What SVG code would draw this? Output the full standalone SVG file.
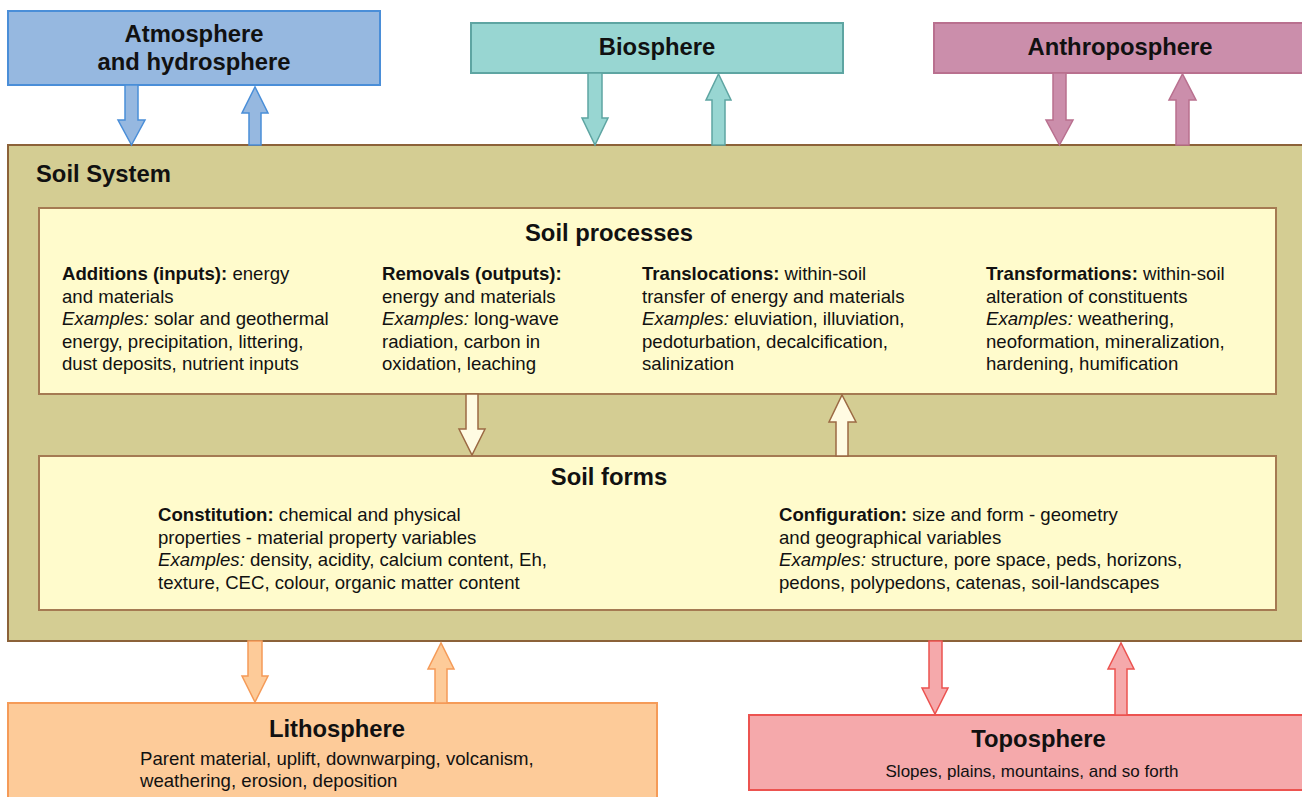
<svg xmlns="http://www.w3.org/2000/svg" width="1302" height="797" viewBox="0 0 1302 797">
<style>
text{font-family:"Liberation Sans",Arial,sans-serif;fill:#111}
.h{font-weight:bold;font-size:23.8px}
.t{font-size:18.6px}
.b{font-weight:bold}
.i{font-style:italic}
.inner{fill:#fffbcc;stroke:#a57a52;stroke-width:2}
.ia{fill:#fffbe2;stroke:#9c6a44;stroke-width:1.5}
</style>
<rect x="0" y="0" width="1302" height="797" fill="#fff"/>
<g id="soil-system">
<rect x="8" y="145" width="1310" height="496" fill="#d4cd93" stroke="#8c6239" stroke-width="2"/>
<text x="36" y="182" class="h">Soil System</text>
</g>
<g id="atmosphere">
<rect x="8" y="11" width="372" height="74" fill="#96b8e0" stroke="#4a8ed8" stroke-width="2"/>
<text x="194" y="42" class="h" text-anchor="middle">Atmosphere</text>
<text x="194" y="70" class="h" text-anchor="middle">and hydrosphere</text>
</g>
<g id="biosphere">
<rect x="471" y="23" width="372" height="50" fill="#98d6d2" stroke="#5ea5a2" stroke-width="2"/>
<text x="657" y="55" class="h" text-anchor="middle">Biosphere</text>
</g>
<g id="anthroposphere">
<rect x="934" y="23" width="380" height="50" fill="#cb8eab" stroke="#b9708f" stroke-width="2"/>
<text x="1120" y="55" class="h" text-anchor="middle">Anthroposphere</text>
</g>
<g id="soil-processes">
<rect x="39" y="208" width="1237" height="186" class="inner"/>
<text x="609" y="241" class="h" text-anchor="middle">Soil processes</text>
<text class="t">
<tspan x="62" y="280"><tspan class="b">Additions (inputs):</tspan> energy</tspan>
<tspan x="62" y="302.5">and materials</tspan>
<tspan x="62" y="325"><tspan class="i">Examples:</tspan> solar and geothermal</tspan>
<tspan x="62" y="347.5">energy, precipitation, littering,</tspan>
<tspan x="62" y="370">dust deposits, nutrient inputs</tspan>
</text>
<text class="t">
<tspan x="382" y="280" class="b">Removals (outputs):</tspan>
<tspan x="382" y="302.5">energy and materials</tspan>
<tspan x="382" y="325"><tspan class="i">Examples:</tspan> long-wave</tspan>
<tspan x="382" y="347.5">radiation, carbon in</tspan>
<tspan x="382" y="370">oxidation, leaching</tspan>
</text>
<text class="t">
<tspan x="642" y="280"><tspan class="b">Translocations:</tspan> within-soil</tspan>
<tspan x="642" y="302.5">transfer of energy and materials</tspan>
<tspan x="642" y="325"><tspan class="i">Examples:</tspan> eluviation, illuviation,</tspan>
<tspan x="642" y="347.5">pedoturbation, decalcification,</tspan>
<tspan x="642" y="370">salinization</tspan>
</text>
<text class="t">
<tspan x="986" y="280"><tspan class="b">Transformations:</tspan> within-soil</tspan>
<tspan x="986" y="302.5">alteration of constituents</tspan>
<tspan x="986" y="325"><tspan class="i">Examples:</tspan> weathering,</tspan>
<tspan x="986" y="347.5">neoformation, mineralization,</tspan>
<tspan x="986" y="370">hardening, humification</tspan>
</text>
</g>
<g id="soil-forms">
<rect x="39" y="456" width="1237" height="154" class="inner"/>
<text x="609" y="485" class="h" text-anchor="middle">Soil forms</text>
<text class="t">
<tspan x="158" y="521"><tspan class="b">Constitution:</tspan> chemical and physical</tspan>
<tspan x="158" y="543.5">properties - material property variables</tspan>
<tspan x="158" y="566"><tspan class="i">Examples:</tspan> density, acidity, calcium content, Eh,</tspan>
<tspan x="158" y="588.5">texture, CEC, colour, organic matter content</tspan>
</text>
<text class="t">
<tspan x="779" y="521"><tspan class="b">Configuration:</tspan> size and form - geometry</tspan>
<tspan x="779" y="543.5">and geographical variables</tspan>
<tspan x="779" y="566"><tspan class="i">Examples:</tspan> structure, pore space, peds, horizons,</tspan>
<tspan x="779" y="588.5">pedons, polypedons, catenas, soil-landscapes</tspan>
</text>
</g>
<g id="lithosphere">
<rect x="8" y="703" width="649" height="110" fill="#fdcb99" stroke="#f59b58" stroke-width="2"/>
<text x="337" y="737" class="h" text-anchor="middle">Lithosphere</text>
<text class="t"><tspan x="140" y="765">Parent material, uplift, downwarping, volcanism,</tspan><tspan x="140" y="787">weathering, erosion, deposition</tspan></text>
</g>
<g id="toposphere">
<rect x="749" y="715" width="570" height="75" fill="#f5a9ab" stroke="#ec5350" stroke-width="2"/>
<text x="1038.5" y="747" class="h" text-anchor="middle">Toposphere</text>
<text x="1032" y="777" style="font-size:17px" text-anchor="middle">Slopes, plains, mountains, and so forth</text>
</g>
<g id="connectors" stroke-width="1.5" stroke-linejoin="miter">
<polygon points="125,85 138,85 138,120 145,120 131.5,145 118,120 125,120" fill="#96b8e0" stroke="#4a8ed8"/>
<polygon points="249,145 261,145 261,113 268,113 255,87 242,113 249,113" fill="#96b8e0" stroke="#4a8ed8"/>
<polygon points="588,73 602,73 602,118 608,118 595,145 582,118 588,118" fill="#98d6d2" stroke="#5ea5a2"/>
<polygon points="712,145 725,145 725,100 731,100 718.5,74 706,100 712,100" fill="#98d6d2" stroke="#5ea5a2"/>
<polygon points="1053,73 1066,73 1066,120 1073,120 1059.5,145 1046,120 1053,120" fill="#cb8eab" stroke="#b9708f"/>
<polygon points="1176,145 1189,145 1189,100 1196,100 1182.5,74 1169,100 1176,100" fill="#cb8eab" stroke="#b9708f"/>
<polygon points="466,394 478,394 478,429 485,429 472,455 459,429 466,429" class="ia"/>
<polygon points="836,456 848,456 848,422 856,422 842,395 829,422 836,422" class="ia"/>
<polygon points="248,641 262,641 262,676 268,676 255,702 242,676 248,676" fill="#fdcb99" stroke="#f59b58"/>
<polygon points="435,703 447,703 447,669 454,669 441,643 428,669 435,669" fill="#fdcb99" stroke="#f59b58"/>
<polygon points="929,641 942,641 942,688 948,688 935,714 922,688 929,688" fill="#f5a9ab" stroke="#ec5350"/>
<polygon points="1115,715 1127,715 1127,669 1134,669 1121,643 1108,669 1115,669" fill="#f5a9ab" stroke="#ec5350"/>
</g>
</svg>
